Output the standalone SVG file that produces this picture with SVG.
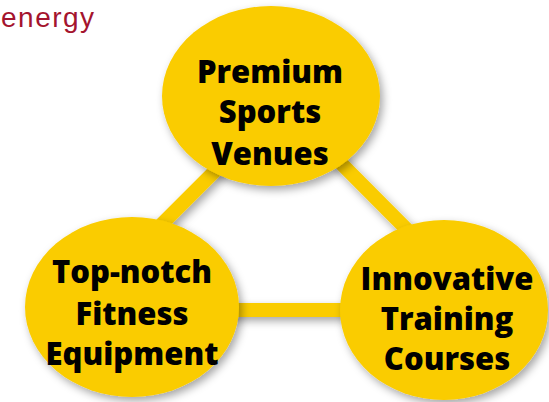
<svg xmlns="http://www.w3.org/2000/svg" width="549" height="402" viewBox="0 0 549 402">
<defs>
<filter id="sh" x="-20%" y="-20%" width="140%" height="140%">
<feDropShadow dx="3" dy="4" stdDeviation="4" flood-color="#000" flood-opacity="0.35"/>
</filter>
</defs>
<style>
.node{fill:#FACC00;filter:url(#sh);}
.conn{stroke:#FACC00;stroke-width:14;fill:none;}
.lbl{font-family:"Open Sans","Liberation Sans",sans-serif;font-weight:800;font-size:31px;fill:#000;text-anchor:middle;}
.title{font-family:"Liberation Sans",sans-serif;font-size:28px;letter-spacing:1.5px;fill:#A4142E;}
</style>
<rect width="549" height="402" fill="#fff"/>
<text class="title" x="1" y="27">energy</text>
<g id="connectors" filter="url(#sh)">
<line class="conn" x1="90" y1="296" x2="282" y2="104"/>
<line class="conn" x1="282" y1="104" x2="475" y2="298"/>
<line class="conn" x1="120" y1="310" x2="450" y2="310"/>
</g>
<g id="node-top">
<ellipse class="node" cx="271" cy="96" rx="109" ry="90"/>
<text class="lbl" x="270" y="83">Premium</text>
<text class="lbl" x="270" y="123">Sports</text>
<text class="lbl" x="270" y="165">Venues</text>
</g>
<g id="node-left">
<ellipse class="node" cx="132" cy="307" rx="107" ry="90"/>
<text class="lbl" x="132" y="283">Top-notch</text>
<text class="lbl" x="132" y="325">Fitness</text>
<text class="lbl" x="132" y="365">Equipment</text>
</g>
<g id="node-right">
<ellipse class="node" cx="444" cy="310" rx="104" ry="90"/>
<text class="lbl" x="447" y="290">Innovative</text>
<text class="lbl" x="447" y="330">Training</text>
<text class="lbl" x="447" y="370">Courses</text>
</g>
</svg>
